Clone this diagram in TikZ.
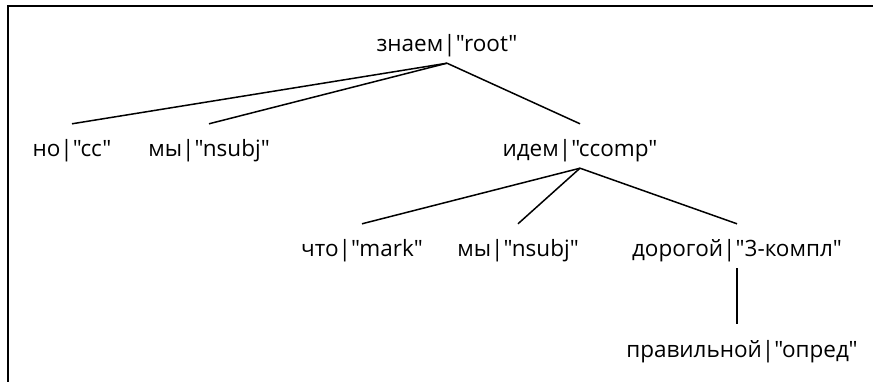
\documentclass[tikz,border=0pt]{standalone}
\usepackage{fontspec}
\setmainfont{Open Sans}[Ligatures=TeXOff]
\usetikzlibrary{positioning}

\begin{document}
\begin{tikzpicture}[
    x=1pt, y=-1pt,
    tok/.style={anchor=base, inner xsep=0pt, inner ysep=6pt, text height=27pt, text depth=5pt,
                font=\fontsize{22.5}{26}\selectfont},
    arc/.style={line width=1.5pt},
    frame/.style={line width=2pt}
  ]
  \clip (0,0) rectangle (873,382);
  \draw[frame] (7.7,6) rectangle (900,400);

  % words with their relation labels
  \node[tok] (znaem) at (447,52) {знаем|"root"};
  \node[tok] (no) at (72,157) {но|"cc"};
  \node[tok] (my) at (209,157) {мы|"nsubj"};
  \node[tok] (idem) at (580,157) {идем|"ccomp"};
  \node[tok] (chto) at (362,257) {что|"mark"};
  \node[tok] (mysub) at (518,257) {мы|"nsubj"};
  \node[tok] (dorogoj) at (737,257) {дорогой|"3-компл"};
  \node[tok] (pravilnoj) at (742,357) {правильной|"опред"};

  \draw[arc] (znaem.south) -- (no.north);
  \draw[arc] (znaem.south) -- (my.north);
  \draw[arc] (znaem.south) -- (idem.north);
  \draw[arc] (idem.south) -- (chto.north);
  \draw[arc] (idem.south) -- (mysub.north);
  \draw[arc] (idem.south) -- (dorogoj.north);
  \draw[arc] (dorogoj.south) -- (dorogoj.south |- pravilnoj.north);
\end{tikzpicture}
\end{document}
